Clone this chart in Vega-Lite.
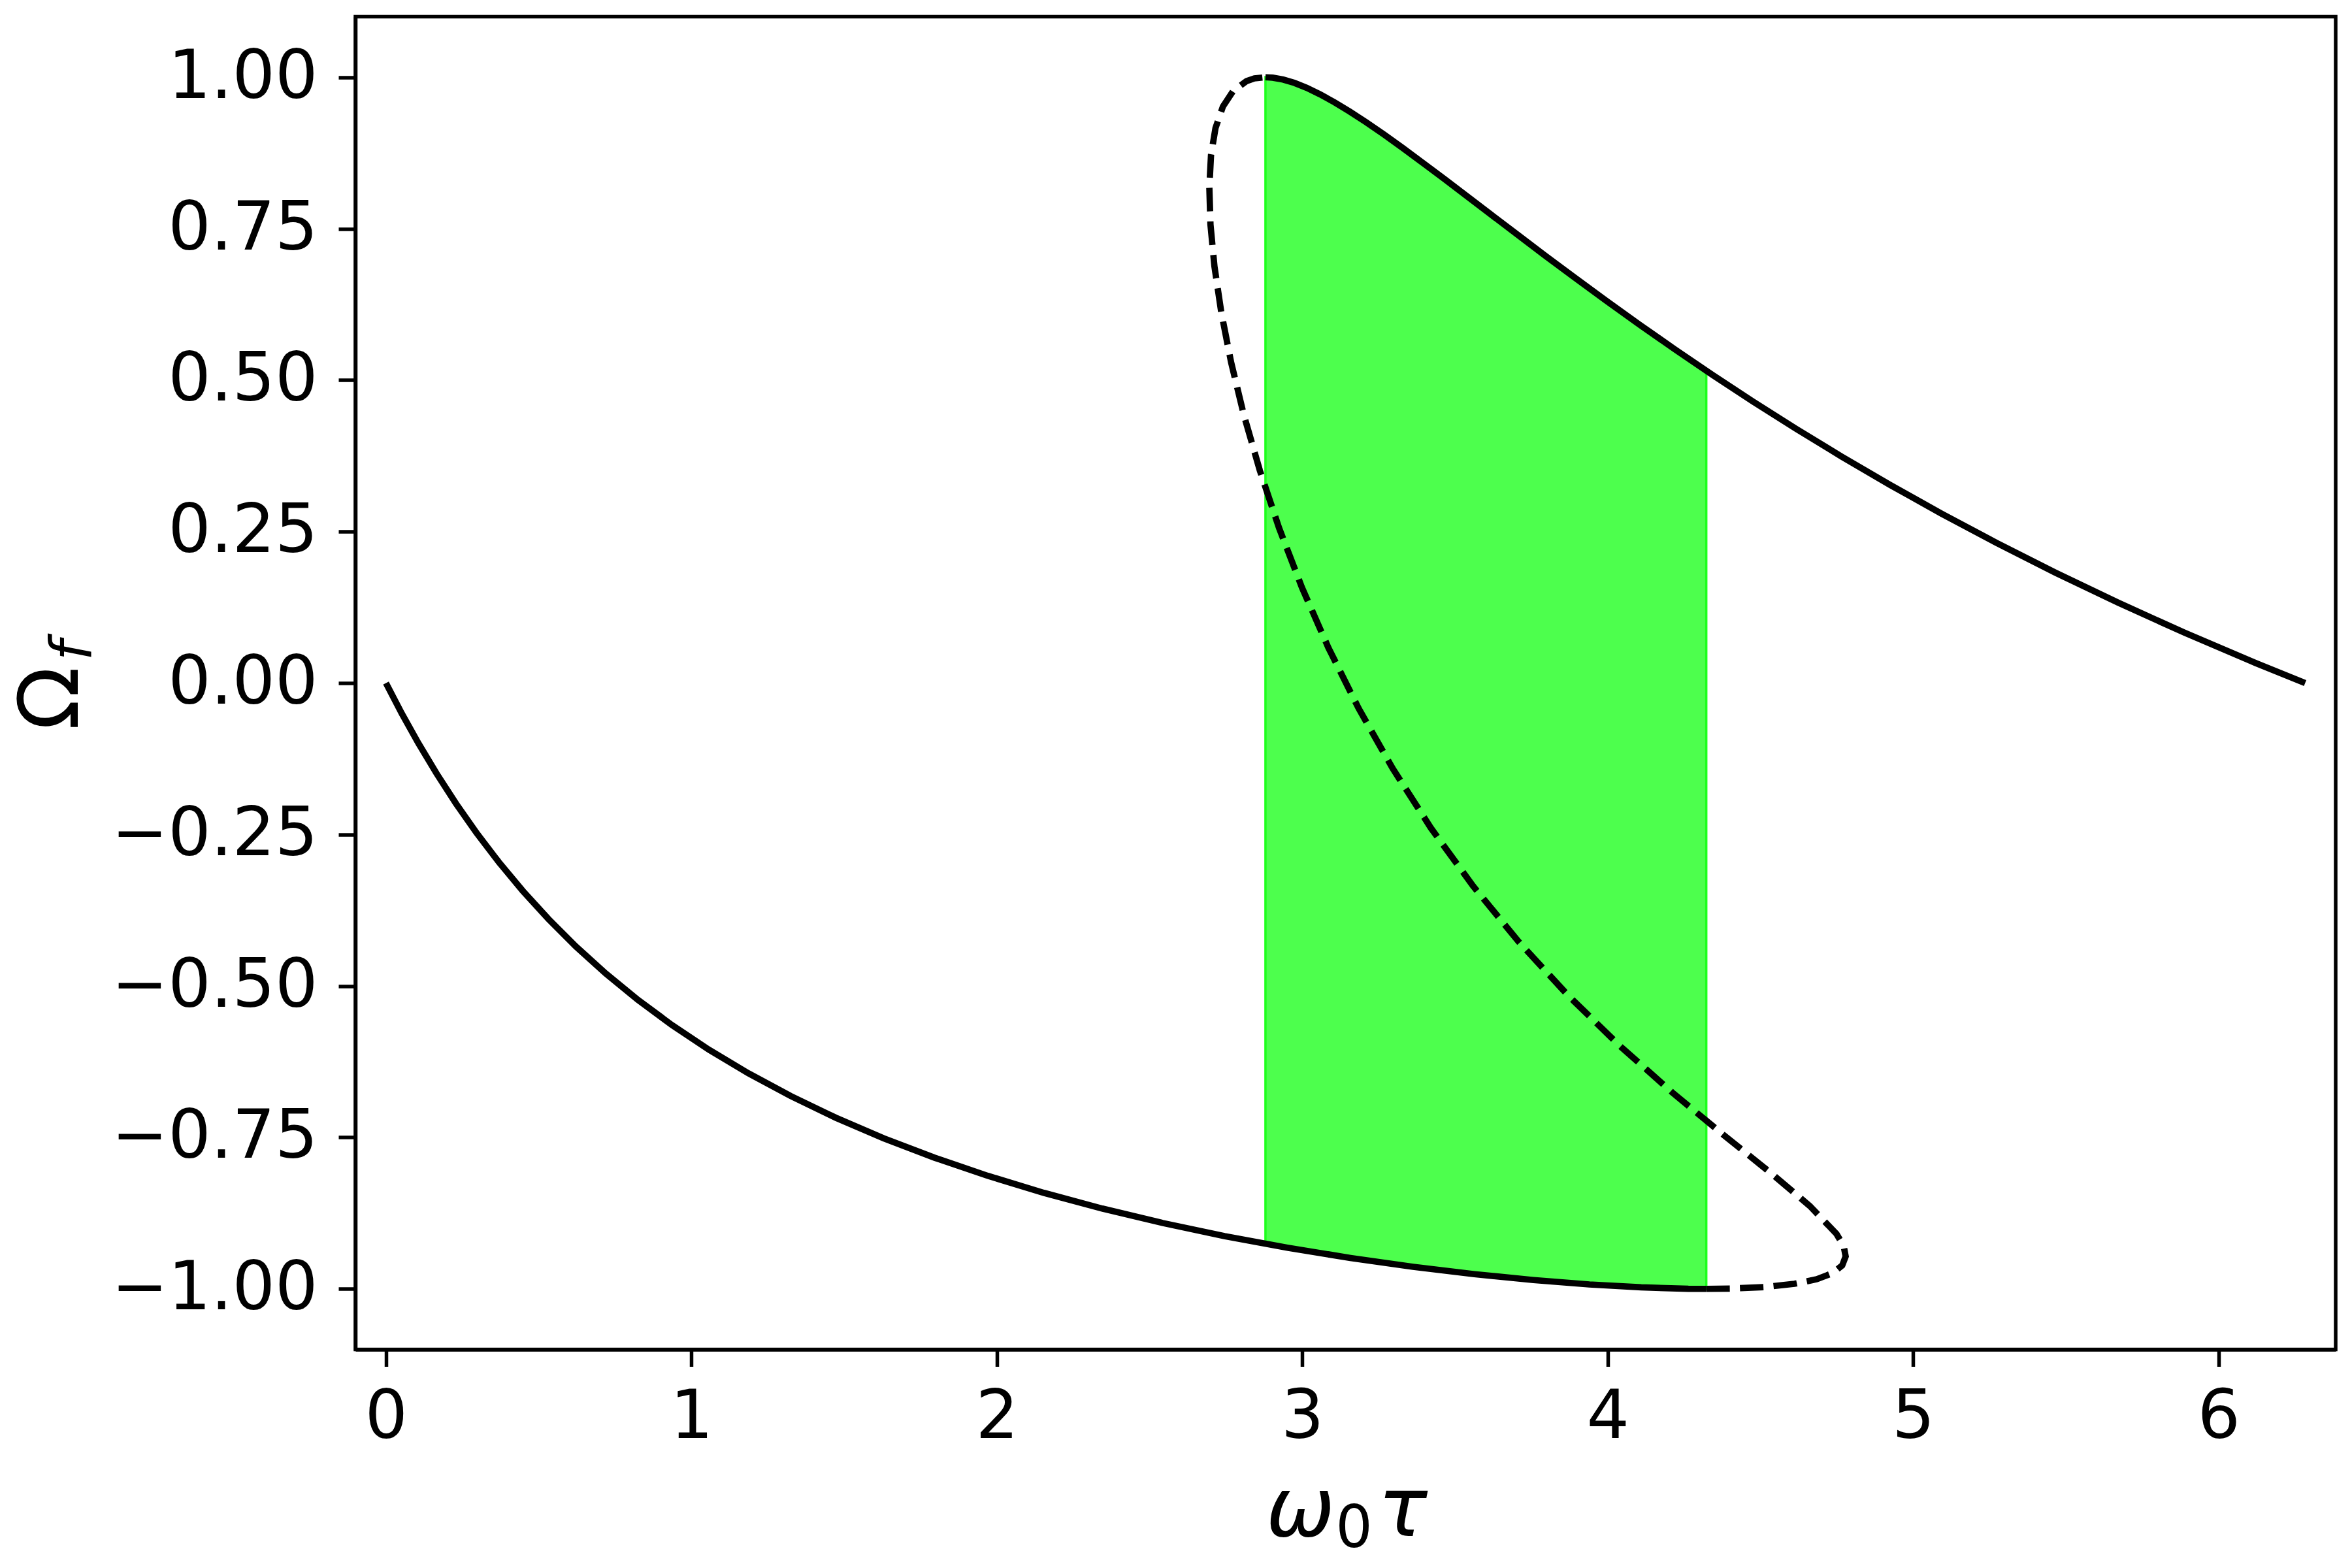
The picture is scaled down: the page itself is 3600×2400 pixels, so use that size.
{
  "$schema": "https://vega.github.io/schema/vega-lite/v6.json",
  "description": "Frequency branches Omega_f against omega_0 tau, with the bistable band shaded",
  "width": 3031,
  "height": 2040,
  "autosize": {"type": "none"},
  "padding": {"left": 544, "top": 25.5, "right": 25, "bottom": 334.5},
  "background": "white",
  "config": {
    "font": "DejaVu Sans",
    "view": {"stroke": "black", "strokeWidth": 5.5}
  },
  "datasets": {
    "band": [
      {"x": 2.8794, "lo": -0.9253, "hi": 1.0},
      {"x": 2.9031, "lo": -0.9275, "hi": 0.9993},
      {"x": 2.9373, "lo": -0.9307, "hi": 0.9962},
      {"x": 2.951, "lo": -0.932, "hi": 0.9941},
      {"x": 2.9744, "lo": -0.9339, "hi": 0.9906},
      {"x": 3.0146, "lo": -0.9372, "hi": 0.9825},
      {"x": 3.058, "lo": -0.9408, "hi": 0.9719},
      {"x": 3.1047, "lo": -0.9446, "hi": 0.9589},
      {"x": 3.1549, "lo": -0.9488, "hi": 0.9435},
      {"x": 3.1577, "lo": -0.949, "hi": 0.9426},
      {"x": 3.2088, "lo": -0.9526, "hi": 0.9258},
      {"x": 3.2665, "lo": -0.9567, "hi": 0.9058},
      {"x": 3.3282, "lo": -0.9611, "hi": 0.8835},
      {"x": 3.3628, "lo": -0.9636, "hi": 0.8706},
      {"x": 3.3941, "lo": -0.9655, "hi": 0.8589},
      {"x": 3.4644, "lo": -0.9697, "hi": 0.8323},
      {"x": 3.5394, "lo": -0.9742, "hi": 0.8035},
      {"x": 3.5635, "lo": -0.9757, "hi": 0.7943},
      {"x": 3.6194, "lo": -0.9785, "hi": 0.7728},
      {"x": 3.7046, "lo": -0.9828, "hi": 0.7401},
      {"x": 3.757, "lo": -0.9854, "hi": 0.7201},
      {"x": 3.7953, "lo": -0.9869, "hi": 0.7055},
      {"x": 3.8919, "lo": -0.9908, "hi": 0.6692},
      {"x": 3.94, "lo": -0.9927, "hi": 0.6515},
      {"x": 3.9946, "lo": -0.9942, "hi": 0.6313},
      {"x": 4.104, "lo": -0.9973, "hi": 0.5917},
      {"x": 4.1098, "lo": -0.9975, "hi": 0.5897},
      {"x": 4.2204, "lo": -0.9992, "hi": 0.5507},
      {"x": 4.2639, "lo": -0.9998, "hi": 0.5358},
      {"x": 4.3227, "lo": -1.0, "hi": 0.5157}
    ],
    "curve": [
      {"seg": "lower", "i": 0, "x": 0.0, "y": 0.0},
      {"seg": "lower", "i": 1, "x": 0.0516, "y": -0.05},
      {"seg": "lower", "i": 2, "x": 0.1068, "y": -0.0998},
      {"seg": "lower", "i": 3, "x": 0.1658, "y": -0.1494},
      {"seg": "lower", "i": 4, "x": 0.229, "y": -0.1987},
      {"seg": "lower", "i": 5, "x": 0.2967, "y": -0.2474},
      {"seg": "lower", "i": 6, "x": 0.3695, "y": -0.2955},
      {"seg": "lower", "i": 7, "x": 0.4477, "y": -0.3429},
      {"seg": "lower", "i": 8, "x": 0.5319, "y": -0.3894},
      {"seg": "lower", "i": 9, "x": 0.6223, "y": -0.435},
      {"seg": "lower", "i": 10, "x": 0.7196, "y": -0.4794},
      {"seg": "lower", "i": 11, "x": 0.8243, "y": -0.5227},
      {"seg": "lower", "i": 12, "x": 0.9367, "y": -0.5646},
      {"seg": "lower", "i": 13, "x": 1.0574, "y": -0.6052},
      {"seg": "lower", "i": 14, "x": 1.1867, "y": -0.6442},
      {"seg": "lower", "i": 15, "x": 1.325, "y": -0.6816},
      {"seg": "lower", "i": 16, "x": 1.4724, "y": -0.7174},
      {"seg": "lower", "i": 17, "x": 1.6292, "y": -0.7513},
      {"seg": "lower", "i": 18, "x": 1.7953, "y": -0.7833},
      {"seg": "lower", "i": 19, "x": 1.9703, "y": -0.8134},
      {"seg": "lower", "i": 20, "x": 2.1538, "y": -0.8415},
      {"seg": "lower", "i": 21, "x": 2.3449, "y": -0.8674},
      {"seg": "lower", "i": 22, "x": 2.5425, "y": -0.8912},
      {"seg": "lower", "i": 23, "x": 2.7452, "y": -0.9128},
      {"seg": "lower", "i": 24, "x": 2.951, "y": -0.932},
      {"seg": "lower", "i": 25, "x": 3.1577, "y": -0.949},
      {"seg": "lower", "i": 26, "x": 3.3628, "y": -0.9636},
      {"seg": "lower", "i": 27, "x": 3.5635, "y": -0.9757},
      {"seg": "lower", "i": 28, "x": 3.757, "y": -0.9854},
      {"seg": "lower", "i": 29, "x": 3.94, "y": -0.9927},
      {"seg": "lower", "i": 30, "x": 4.1098, "y": -0.9975},
      {"seg": "lower", "i": 31, "x": 4.2639, "y": -0.9998},
      {"seg": "lower", "i": 32, "x": 4.3227, "y": -1.0},
      {"seg": "unstable", "i": 0, "x": 4.3227, "y": -1.0},
      {"seg": "unstable", "i": 1, "x": 4.3999, "y": -0.9996},
      {"seg": "unstable", "i": 2, "x": 4.516, "y": -0.9969},
      {"seg": "unstable", "i": 3, "x": 4.6109, "y": -0.9917},
      {"seg": "unstable", "i": 4, "x": 4.6845, "y": -0.984},
      {"seg": "unstable", "i": 5, "x": 4.7365, "y": -0.9739},
      {"seg": "unstable", "i": 6, "x": 4.7677, "y": -0.9613},
      {"seg": "unstable", "i": 7, "x": 4.779, "y": -0.9463},
      {"seg": "unstable", "i": 8, "x": 4.7723, "y": -0.929},
      {"seg": "unstable", "i": 9, "x": 4.7491, "y": -0.9093},
      {"seg": "unstable", "i": 10, "x": 4.6618, "y": -0.8632},
      {"seg": "unstable", "i": 11, "x": 4.5334, "y": -0.8085},
      {"seg": "unstable", "i": 12, "x": 4.3787, "y": -0.7457},
      {"seg": "unstable", "i": 13, "x": 4.2106, "y": -0.6755},
      {"seg": "unstable", "i": 14, "x": 4.0388, "y": -0.5985},
      {"seg": "unstable", "i": 15, "x": 3.8701, "y": -0.5155},
      {"seg": "unstable", "i": 16, "x": 3.7092, "y": -0.4274},
      {"seg": "unstable", "i": 17, "x": 3.559, "y": -0.335},
      {"seg": "unstable", "i": 18, "x": 3.4211, "y": -0.2393},
      {"seg": "unstable", "i": 19, "x": 3.2961, "y": -0.1411},
      {"seg": "unstable", "i": 20, "x": 3.1843, "y": -0.0416},
      {"seg": "unstable", "i": 21, "x": 3.0854, "y": 0.0584},
      {"seg": "unstable", "i": 22, "x": 2.9988, "y": 0.1578},
      {"seg": "unstable", "i": 23, "x": 2.9243, "y": 0.2555},
      {"seg": "unstable", "i": 24, "x": 2.8611, "y": 0.3508},
      {"seg": "unstable", "i": 25, "x": 2.8087, "y": 0.4425},
      {"seg": "unstable", "i": 26, "x": 2.7668, "y": 0.5298},
      {"seg": "unstable", "i": 27, "x": 2.7348, "y": 0.6119},
      {"seg": "unstable", "i": 28, "x": 2.7124, "y": 0.6878},
      {"seg": "unstable", "i": 29, "x": 2.6994, "y": 0.7568},
      {"seg": "unstable", "i": 30, "x": 2.6957, "y": 0.8183},
      {"seg": "unstable", "i": 31, "x": 2.7012, "y": 0.8716},
      {"seg": "unstable", "i": 32, "x": 2.7159, "y": 0.9162},
      {"seg": "unstable", "i": 33, "x": 2.7401, "y": 0.9516},
      {"seg": "unstable", "i": 34, "x": 2.7738, "y": 0.9775},
      {"seg": "unstable", "i": 35, "x": 2.8176, "y": 0.9937},
      {"seg": "unstable", "i": 36, "x": 2.8433, "y": 0.9981},
      {"seg": "unstable", "i": 37, "x": 2.8794, "y": 1.0},
      {"seg": "upper", "i": 0, "x": 2.8794, "y": 1.0},
      {"seg": "upper", "i": 1, "x": 2.9031, "y": 0.9993},
      {"seg": "upper", "i": 2, "x": 2.9373, "y": 0.9962},
      {"seg": "upper", "i": 3, "x": 2.9744, "y": 0.9906},
      {"seg": "upper", "i": 4, "x": 3.0146, "y": 0.9825},
      {"seg": "upper", "i": 5, "x": 3.058, "y": 0.9719},
      {"seg": "upper", "i": 6, "x": 3.1047, "y": 0.9589},
      {"seg": "upper", "i": 7, "x": 3.1549, "y": 0.9435},
      {"seg": "upper", "i": 8, "x": 3.2088, "y": 0.9258},
      {"seg": "upper", "i": 9, "x": 3.2665, "y": 0.9058},
      {"seg": "upper", "i": 10, "x": 3.3282, "y": 0.8835},
      {"seg": "upper", "i": 11, "x": 3.3941, "y": 0.8589},
      {"seg": "upper", "i": 12, "x": 3.4644, "y": 0.8323},
      {"seg": "upper", "i": 13, "x": 3.5394, "y": 0.8035},
      {"seg": "upper", "i": 14, "x": 3.6194, "y": 0.7728},
      {"seg": "upper", "i": 15, "x": 3.7046, "y": 0.7401},
      {"seg": "upper", "i": 16, "x": 3.7953, "y": 0.7055},
      {"seg": "upper", "i": 17, "x": 3.8919, "y": 0.6692},
      {"seg": "upper", "i": 18, "x": 3.9946, "y": 0.6313},
      {"seg": "upper", "i": 19, "x": 4.104, "y": 0.5917},
      {"seg": "upper", "i": 20, "x": 4.2204, "y": 0.5507},
      {"seg": "upper", "i": 21, "x": 4.3443, "y": 0.5083},
      {"seg": "upper", "i": 22, "x": 4.4761, "y": 0.4646},
      {"seg": "upper", "i": 23, "x": 4.6164, "y": 0.4198},
      {"seg": "upper", "i": 24, "x": 4.7657, "y": 0.3739},
      {"seg": "upper", "i": 25, "x": 4.9246, "y": 0.3271},
      {"seg": "upper", "i": 26, "x": 5.0939, "y": 0.2794},
      {"seg": "upper", "i": 27, "x": 5.2742, "y": 0.2311},
      {"seg": "upper", "i": 28, "x": 5.4661, "y": 0.1822},
      {"seg": "upper", "i": 29, "x": 5.671, "y": 0.1327},
      {"seg": "upper", "i": 30, "x": 5.8885, "y": 0.0831},
      {"seg": "upper", "i": 31, "x": 6.1207, "y": 0.0332},
      {"seg": "upper", "i": 32, "x": 6.2832, "y": 0.0}
    ]
  },
  "layer": [
    {
      "data": {"name": "band"},
      "mark": {"type": "area", "fill": "#4dff4d", "stroke": "#1cff1c", "strokeWidth": 3.5, "opacity": 1},
      "encoding": {
        "x": {
          "field": "x",
          "type": "quantitative",
          "scale": {"domain": [-0.1, 6.3832], "nice": false, "zero": false},
          "axis": {
            "values": [0, 1, 2, 3, 4, 5, 6],
            "format": "d",
            "grid": false,
            "labelFont": "DejaVu Sans",
            "labelFontSize": 103,
            "labelColor": "black",
            "labelPadding": 28,
            "labelFlush": false,
            "labelOverlap": false,
            "labelLimit": 500,
            "tickSize": 26,
            "tickWidth": 5.5,
            "tickColor": "black",
            "domainColor": "black",
            "domainWidth": 5.5,
            "title": "ω",
            "titleFont": "DejaVu Sans",
            "titleFontSize": 126,
            "titleFontStyle": "italic",
            "titleFontWeight": "normal",
            "titleColor": "black",
            "titleAlign": "center",
            "titleBaseline": "alphabetic",
            "titleX": 1446,
            "titleY": 284.5
          }
        },
        "y": {
          "field": "lo",
          "type": "quantitative",
          "scale": {"domain": [-1.1, 1.1], "nice": false, "zero": false},
          "axis": {
            "orient": "left",
            "values": [-1, -0.75, -0.5, -0.25, 0, 0.25, 0.5, 0.75, 1],
            "format": ".2f",
            "grid": false,
            "labelFont": "DejaVu Sans",
            "labelFontSize": 103,
            "labelColor": "black",
            "labelPadding": 32,
            "labelFlush": false,
            "labelOverlap": false,
            "labelLimit": 500,
            "tickSize": 26,
            "tickWidth": 5.5,
            "tickColor": "black",
            "domainColor": "black",
            "domainWidth": 5.5,
            "title": "Ω",
            "titleFont": "DejaVu Sans",
            "titleFontSize": 127,
            "titleFontWeight": "normal",
            "titleColor": "black",
            "titleAngle": 270,
            "titleAlign": "center",
            "titleBaseline": "alphabetic",
            "titleX": -426,
            "titleY": 1043
          }
        },
        "y2": {"field": "hi"}
      }
    },
    {
      "data": {"name": "curve"},
      "transform": [{"filter": "datum.seg != 'unstable'"}],
      "mark": {"type": "line", "color": "black", "strokeWidth": 9.7, "strokeCap": "butt"},
      "encoding": {
        "x": {
          "field": "x",
          "type": "quantitative",
          "scale": {"domain": [-0.1, 6.3832], "nice": false, "zero": false},
          "axis": {
            "orient": "bottom",
            "labels": false,
            "ticks": false,
            "domain": false,
            "grid": false,
            "title": "0",
            "titleFont": "DejaVu Sans",
            "titleFontSize": 89,
            "titleFontWeight": "normal",
            "titleColor": "black",
            "titleAlign": "center",
            "titleBaseline": "alphabetic",
            "titleX": 1528,
            "titleY": 301.5
          }
        },
        "y": {
          "field": "y",
          "type": "quantitative",
          "scale": {"domain": [-1.1, 1.1], "nice": false, "zero": false},
          "axis": {
            "orient": "left",
            "labels": false,
            "ticks": false,
            "domain": false,
            "grid": false,
            "title": "f",
            "titleFont": "DejaVu Sans",
            "titleFontSize": 88,
            "titleFontStyle": "italic",
            "titleFontWeight": "normal",
            "titleColor": "black",
            "titleAngle": 270,
            "titleAlign": "center",
            "titleBaseline": "alphabetic",
            "titleX": -406,
            "titleY": 970
          }
        },
        "detail": {"field": "seg", "type": "nominal"},
        "order": {"field": "i", "type": "quantitative"}
      }
    },
    {
      "data": {"name": "curve"},
      "transform": [{"filter": "datum.seg == 'unstable'"}],
      "mark": {"type": "line", "color": "black", "strokeWidth": 9.7, "strokeCap": "butt", "strokeDash": [36, 15.5]},
      "encoding": {
        "x": {
          "field": "x",
          "type": "quantitative",
          "scale": {"domain": [-0.1, 6.3832], "nice": false, "zero": false},
          "axis": {
            "orient": "bottom",
            "labels": false,
            "ticks": false,
            "domain": false,
            "grid": false,
            "title": "τ",
            "titleFont": "DejaVu Sans",
            "titleFontSize": 126,
            "titleFontStyle": "italic",
            "titleFontWeight": "normal",
            "titleColor": "black",
            "titleAlign": "center",
            "titleBaseline": "alphabetic",
            "titleX": 1602.5,
            "titleY": 284.5
          }
        },
        "y": {
          "field": "y",
          "type": "quantitative",
          "scale": {"domain": [-1.1, 1.1], "nice": false, "zero": false},
          "axis": null
        },
        "order": {"field": "i", "type": "quantitative"}
      }
    }
  ],
  "resolve": {
    "scale": {"x": "independent", "y": "independent"},
    "axis": {"x": "independent", "y": "independent"}
  }
}
